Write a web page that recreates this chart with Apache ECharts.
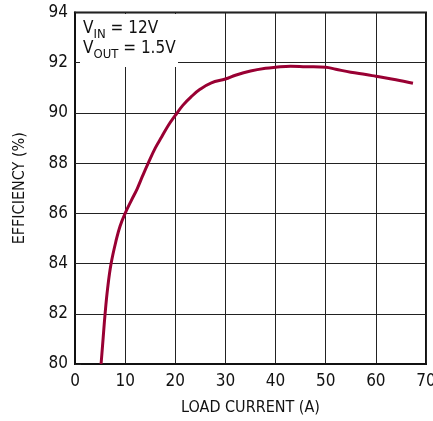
<!DOCTYPE html>
<html>
<head>
<meta charset="utf-8">
<script src="https://cdn.jsdelivr.net/npm/echarts@6/dist/echarts.min.js"></script>
<style>
html,body{margin:0;padding:0;background:#fff;}
#c{width:433px;height:421px;}
</style>
</head>
<body>
<div id="c"></div>
<script>
var loadCurrent = [5.2, 5.6, 6.0, 6.5, 7.2, 8.3, 9.0, 10.0, 11.2, 12.4, 13.5, 14.6, 16.0, 17.3, 18.6, 20.0, 21.5, 23.2, 25.0, 27.2, 30.0, 32.0, 35.0, 38.0, 40.0, 43.0, 46.0, 50.0, 52.0, 55.0, 58.0, 60.0, 64.0, 67.4];
var efficiency = [80.0, 81.0, 82.0, 83.0, 84.0, 85.0, 85.5, 86.0, 86.5, 86.98, 87.5, 88.0, 88.6, 89.05, 89.5, 89.9, 90.3, 90.65, 90.95, 91.2, 91.35, 91.5, 91.67, 91.78, 91.82, 91.86, 91.84, 91.82, 91.74, 91.62, 91.53, 91.46, 91.32, 91.18];
var xTicks = [0, 10, 20, 30, 40, 50, 60, 70];
var yTicks = [80, 82, 84, 86, 88, 90, 92, 94];
var xTitle = 'LOAD CURRENT (A)';
var yTitle = 'EFFICIENCY (%)';

var FONT = "'Liberation Sans Narrow', 'DejaVu Sans Condensed', 'Liberation Sans', sans-serif";
var chart = echarts.init(document.getElementById('c'), null, {renderer: 'canvas'});
var pts = loadCurrent.map(function (x, i) { return [x, efficiency[i]]; });
chart.setOption({
  animation: false,
  backgroundColor: '#fff',
  grid: {left: 75, right: 7, top: 12.5, bottom: 57, containLabel: false, outerBoundsMode: 'none', show: true, borderColor: '#111', borderWidth: 2, backgroundColor: 'transparent'},
  xAxis: {
    type: 'value', min: xTicks[0], max: xTicks[xTicks.length - 1], interval: 10,
    name: xTitle, nameLocation: 'middle', nameGap: 36,
    nameTextStyle: {fontFamily: FONT, fontSize: 16, color: '#111'},
    axisLine: {show: true, lineStyle: {color: '#111', width: 2}},
    axisTick: {show: false},
    axisLabel: {fontFamily: FONT, fontSize: 17, color: '#111', margin: 9, showMaxLabel: true, hideOverlap: false},
    splitLine: {show: true, lineStyle: {color: '#222', width: 1}}
  },
  yAxis: {
    type: 'value', min: yTicks[0], max: yTicks[yTicks.length - 1], interval: 2,
    name: yTitle, nameLocation: 'middle', nameGap: 47,
    nameTextStyle: {fontFamily: FONT, fontSize: 16, color: '#111'},
    axisLine: {show: true, lineStyle: {color: '#111', width: 2}},
    axisTick: {show: true, inside: true, length: 6, lineStyle: {color: '#222', width: 1}},
    axisLabel: {fontFamily: FONT, fontSize: 17, color: '#111', margin: 7},
    splitLine: {show: true, lineStyle: {color: '#222', width: 1}}
  },
  graphic: [
    {type: 'rect', left: 80, top: 14, z: 10, shape: {width: 98, height: 53}, style: {fill: '#fff'}},
    {type: 'text', left: 83, top: 20, z: 11, style: {
      text: '{v|V}{s|IN}{v| = 12V}\n{v|V}{s|OUT}{v| = 1.5V}',
      rich: {
        v: {fontFamily: FONT, fontSize: 17, lineHeight: 20, fill: '#111', verticalAlign: 'bottom'},
        s: {fontFamily: FONT, fontSize: 13, lineHeight: 20, fill: '#111', verticalAlign: 'bottom', padding: [0, 0, -4, 0]}
      }
    }}
  ],
  series: [{
    type: 'line', data: pts, showSymbol: false, smooth: 0.4, z: 5,
    lineStyle: {color: '#990033', width: 3},
    clip: true
  }]
});
</script>
</body>
</html>
